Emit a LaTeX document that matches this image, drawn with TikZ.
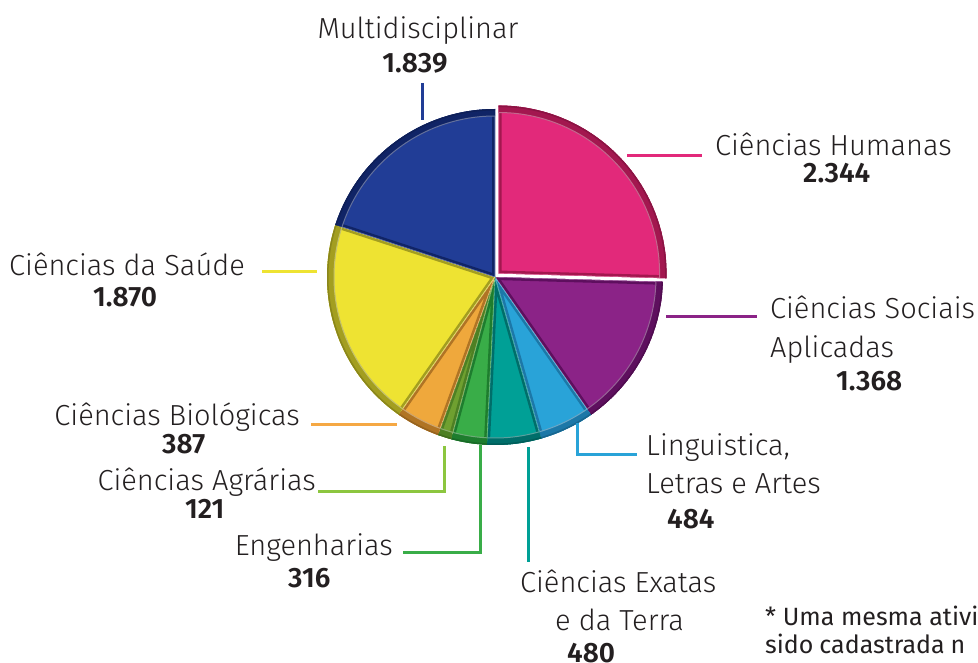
\documentclass[tikz,border=0pt]{standalone}
\usepackage{fontspec}
\setmainfont{Fira Sans}[UprightFont={* Light}, BoldFont={* SemiBold}]
\newfontfamily\footfont{Fira Sans}
\definecolor{txt}{HTML}{231F20}
\definecolor{cHum}{HTML}{E2297A}\definecolor{dHum}{HTML}{A3174F}
\definecolor{cSoc}{HTML}{8B2387}\definecolor{dSoc}{HTML}{5E0F5E}
\definecolor{cLin}{HTML}{29A3D8}\definecolor{dLin}{HTML}{1C78A8}
\definecolor{cExa}{HTML}{00A096}\definecolor{dExa}{HTML}{006E6A}
\definecolor{cEng}{HTML}{39AD48}\definecolor{dEng}{HTML}{1E7D2E}
\definecolor{cAgr}{HTML}{6FA030}\definecolor{dAgr}{HTML}{4E8024}
\definecolor{lAgr}{HTML}{8CC63F}
\definecolor{cBio}{HTML}{EFA83C}\definecolor{dBio}{HTML}{B07424}
\definecolor{lBio}{HTML}{F5A844}
\definecolor{cSau}{HTML}{EEE332}\definecolor{dSau}{HTML}{A39E20}
\definecolor{cMul}{HTML}{213D96}\definecolor{dMul}{HTML}{102466}
\tikzset{
  lbl/.style={text=txt, inner sep=0pt, font=\fontsize{29}{31}\selectfont},
  num/.style={text=txt, inner sep=0pt, font=\fontsize{28}{30}\selectfont\bfseries},
  foot/.style={text=txt, inner sep=0pt, font=\footfont\fontsize{25}{28}\selectfont},
  leader/.style={line width=3pt},
}
\begin{document}
\begin{tikzpicture}[x=1pt,y=-1pt]
\useasboundingbox (0,0) rectangle (978,663);
% pie
\begin{scope}[shift={(495,277)}, yscale=-1]
\foreach \a/\b/\m/\d/\ox/\oy in {
  90/-1.63/cHum/dHum/3.6/3.5,
  -1.63/-55.11/cSoc/dSoc/0/0,
  -55.11/-74.03/cLin/dLin/0/0,
  -74.03/-92.79/cExa/dExa/0/0,
  -92.79/-105.15/cEng/dEng/0/0,
  -105.15/-109.88/cAgr/dAgr/0/0,
  -109.88/-125.01/cBio/dBio/0/0,
  -125.01/-198.11/cSau/dSau/0/0,
  -198.11/-270/cMul/dMul/0/0}{
  \begin{scope}[shift={(\ox,\oy)}]
    \clip (0,0) -- (\a:168) arc[start angle=\a, end angle=\b, radius=168] -- cycle;
    \fill[\m] (0,0) -- (\a:168) arc[start angle=\a, end angle=\b, radius=168] -- cycle;
    \draw[\d, line width=6pt] (\b:168) -- (0,0) -- (\a:168);
    \draw[white!40!\m, line width=0.8pt] (\b:165) -- (0,0) -- (\a:165);
    \draw[\d, line width=14pt] (\a:168) arc[start angle=\a, end angle=\b, radius=168];
    \draw[white!35!\d, line width=1pt] (\a:161) arc[start angle=\a, end angle=\b, radius=161];
    \draw[black!15!\d, line width=3pt] (\a:168) arc[start angle=\a, end angle=\b, radius=168];
  \end{scope}
}
\end{scope}
% labels
\node[lbl, anchor=base] (mul) at (418,39) {Multidisciplinar};
\node[num, anchor=base] (mulN) at (415,73) {1.839};
\node[lbl, anchor=base west] (hum) at (715,156) {Ciências Humanas};
\node[num, anchor=base west] (humN) at (803,183) {2.344};
\node[lbl, anchor=base west] (soc) at (770,319) {Ciências Sociais};
\node[lbl, anchor=base west] (soc2) at (770,357) {Aplicadas};
\node[num, anchor=base west] (socN) at (836,390) {1.368};
\node[lbl, anchor=base west] (lin) at (646,455) {Linguistica,};
\node[lbl, anchor=base west] (lin2) at (646,493) {Letras e Artes};
\node[num, anchor=base west] (linN) at (667,528) {484};
\node[lbl, anchor=base west] (exa) at (520,592) {Ciências Exatas};
\node[lbl, anchor=base west] (exa2) at (555,630) {e da Terra};
\node[num, anchor=base west] (exaN) at (567,662) {480};
\node[lbl, anchor=base east] (eng) at (393,555) {Engenharias};
\node[num, anchor=base west] (engN) at (288,587) {316};
\node[lbl, anchor=base east] (agr) at (316,490) {Ciências Agrárias};
\node[num, anchor=base west] (agrN) at (185,518) {121};
\node[lbl, anchor=base east] (bio) at (300,425) {Ciências Biológicas};
\node[num, anchor=base west] (bioN) at (162,453) {387};
\node[lbl, anchor=base east] (sau) at (245,276) {Ciências da Saúde};
\node[num, anchor=base west] (sauN) at (93,307) {1.870};
\node[foot, anchor=base west] (f1) at (765,625) {* Uma mesma ativi};
\node[foot, anchor=base west] (f2) at (765,653) {sido\hspace{6pt}cadastrada\hspace{6pt}n};
% leader lines
\coordinate (mulA) at (422,83); \coordinate (mulB) at (422,120);
\coordinate (humA) at (627,156); \coordinate (humB) at (702,156);
\coordinate (socA) at (666,317); \coordinate (socB) at (757,317);
\coordinate (linA) at (577,423); \coordinate (linB) at (637,454);
\coordinate (exaA) at (528,447); \coordinate (exaB) at (528,562);
\coordinate (engA) at (480,445); \coordinate (engB) at (403,552);
\coordinate (agrA) at (444,446); \coordinate (agrB) at (318,491);
\coordinate (bioA) at (311,424); \coordinate (bioB) at (397,424);
\coordinate (sauA) at (262,272); \coordinate (sauB) at (317,272);
\draw[leader, cMul] (mulA) -- (mulB);
\draw[leader, cHum] (humA) -- (humB);
\draw[leader, cSoc] (socA) -- (socB);
\draw[leader, cLin] (linA) |- (linB);
\draw[leader, cExa] (exaA) -- (exaB);
\draw[leader, cEng] (engA) |- (engB);
\draw[leader, lAgr] (agrA) |- (agrB);
\draw[leader, lBio] (bioA) -- (bioB);
\draw[leader, cSau] (sauA) -- (sauB);
\end{tikzpicture}
\end{document}
